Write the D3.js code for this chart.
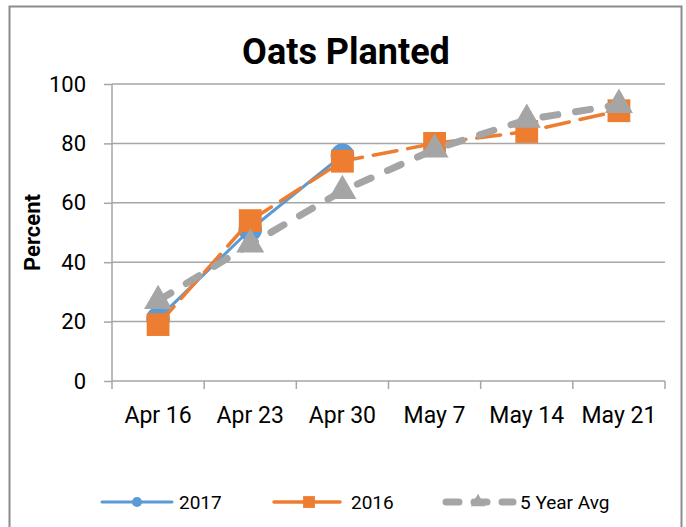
<!DOCTYPE html>
<html>
<head>
<meta charset="utf-8">
<script src="https://cdn.jsdelivr.net/npm/d3@7"></script>
<style>
  body { margin: 0; background: #fff; }
  text { font-family: Roboto, "Open Sans", sans-serif; fill: #000; }
</style>
</head>
<body>
<div id="my_dataviz"></div>
<script>
// data
var weeks = ["Apr 16", "Apr 23", "Apr 30", "May 7", "May 14", "May 21"];
var y2017 = [21, 51, 76];
var y2016 = [19, 54, 74, 80, 84, 91];
var yAvg = [27, 46, 64, 78, 88, 93];
var yTicks = [0, 20, 40, 60, 80, 100];

var W = 686, H = 527;
var margin = {top: 84, right: 21, bottom: 146, left: 112},
    width = W - margin.left - margin.right,
    height = H - margin.top - margin.bottom;

var root = d3.select("#my_dataviz")
  .append("svg")
    .attr("width", W)
    .attr("height", H);

// chart frame
root.append("rect")
  .attr("x", 9.5).attr("y", 6.5)
  .attr("width", 672).attr("height", 560)
  .attr("fill", "none")
  .attr("stroke", "#8c8c8c")
  .attr("stroke-width", 2);

root.append("text")
  .attr("x", 346).attr("y", 64)
  .attr("text-anchor", "middle")
  .style("font-size", "36px")
  .style("font-weight", "bold")
  .text("Oats Planted");

var svg = root.append("g")
    .attr("transform", "translate(" + margin.left + "," + margin.top + ")");

var x = d3.scaleBand().domain(weeks).range([0, width]);
var y = d3.scaleLinear().domain([0, 100]).range([height, 0]);
var cx = function(i) { return x(weeks[i]) + x.bandwidth() / 2; };

// gridlines
svg.append("g")
  .selectAll("line")
  .data(yTicks.slice(1))
  .enter().append("line")
    .attr("x1", 0).attr("x2", width)
    .attr("y1", function(d) { return y(d); })
    .attr("y2", function(d) { return y(d); })
    .attr("stroke", "#a6a6a6")
    .attr("stroke-width", 1.5);

// y axis
var yAxis = svg.append("g")
  .call(d3.axisLeft(y).tickValues(yTicks).tickSize(8).tickPadding(18));
yAxis.selectAll("line, path").attr("stroke", "#a6a6a6").attr("stroke-width", 1.5);
yAxis.select(".domain").attr("d", "M0," + height + "V0");
yAxis.selectAll("text").style("font-size", "22px").attr("fill", "#000")
  .attr("font-family", null);

// x axis
var xTickPos = d3.range(weeks.length + 1).map(function(i) { return i * x.step(); });
var xAxis = svg.append("g")
  .attr("transform", "translate(0," + height + ")");
xAxis.append("line")
  .attr("x1", 0).attr("x2", width)
  .attr("stroke", "#a6a6a6").attr("stroke-width", 1.5);
xAxis.selectAll(".tk")
  .data(xTickPos)
  .enter().append("line")
    .attr("x1", function(d) { return d; })
    .attr("x2", function(d) { return d; })
    .attr("y1", 0).attr("y2", 8)
    .attr("stroke", "#a6a6a6").attr("stroke-width", 1.5);
xAxis.selectAll(".lbl")
  .data(weeks)
  .enter().append("text")
    .attr("x", function(d) { return x(d) + x.bandwidth() / 2; })
    .attr("y", 42)
    .attr("text-anchor", "middle")
    .style("font-size", "23px")
    .text(function(d) { return d; });

// y axis title
svg.append("text")
  .attr("transform", "translate(-72," + (height / 2) + ") rotate(-90)")
  .attr("text-anchor", "middle")
  .style("font-size", "22px")
  .style("font-weight", "bold")
  .text("Percent");

var line = d3.line()
  .x(function(d, i) { return cx(i); })
  .y(function(d) { return y(d); });

var series = [
  {name: "2017", values: y2017, color: "#5b9bd5", width: 3, dash: null, cap: "round", shape: d3.symbolCircle},
  {name: "2016", values: y2016, color: "#ed7d31", width: 3.5, dash: "24,11", cap: "round", shape: d3.symbolSquare},
  {name: "5 Year Avg", values: yAvg, color: "#a5a5a5", width: 7, dash: "15,18", cap: "round", shape: d3.symbolTriangle}
];
var markerSize = {"2017": 440, "2016": 520, "5 Year Avg": 340};

series.forEach(function(s) {
  svg.append("path")
    .datum(s.values)
    .attr("fill", "none")
    .attr("stroke", s.color)
    .attr("stroke-width", s.width)
    .attr("stroke-dasharray", s.dash)
    .attr("stroke-linecap", s.cap)
    .attr("stroke-linejoin", "round")
    .attr("d", line);
  svg.append("g")
    .selectAll("path")
    .data(s.values)
    .enter().append("path")
      .attr("transform", function(d, i) { return "translate(" + cx(i) + "," + y(d) + ")"; })
      .attr("d", d3.symbol().type(s.shape).size(markerSize[s.name]))
      .attr("fill", s.color);
});

// legend
var legendX = [102, 274, 443];
var legendMark = {"2017": 80, "2016": 140, "5 Year Avg": 90};
var lg = root.append("g").attr("transform", "translate(0,502)");
series.forEach(function(s, i) {
  var g = lg.append("g").attr("transform", "translate(" + legendX[i] + ",0)");
  g.append("line")
    .attr("x1", s.width > 5 ? 3 : 0).attr("x2", 70)
    .attr("stroke", s.color)
    .attr("stroke-width", s.width)
    .attr("stroke-dasharray", s.dash ? (s.width > 5 ? "13,15" : "30,6") : null)
    .attr("stroke-linecap", "round");
  g.append("path")
    .attr("transform", "translate(35,0)")
    .attr("d", d3.symbol().type(s.shape).size(legendMark[s.name]))
    .attr("fill", s.color);
  g.append("text")
    .attr("x", 77).attr("y", 7)
    .style("font-size", "19px")
    .text(s.name);
});
</script>
</body>
</html>
